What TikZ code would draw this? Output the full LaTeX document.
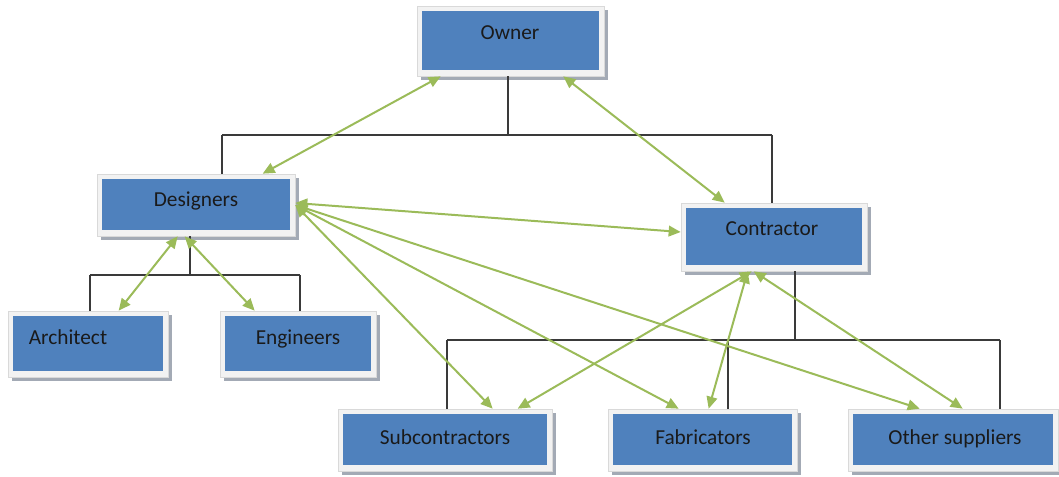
\documentclass[tikz,border=0pt]{standalone}
\usepackage{fontspec}
\setmainfont{Carlito}
\usetikzlibrary{arrows.meta,calc}
\definecolor{boxblue}{HTML}{4F81BD}
\definecolor{framefill}{HTML}{F2F2F2}
\definecolor{framegrey}{HTML}{D9D9D9}
\definecolor{shadowgrey}{HTML}{A3AAB5}
\definecolor{txt}{HTML}{1A1A1A}
\definecolor{treegrey}{HTML}{3A3A3A}
\definecolor{linkgreen}{HTML}{9BBB59}
\begin{document}
\begin{tikzpicture}[x=0.75pt,y=-0.75pt,
  frame/.style={rectangle, draw=framegrey, line width=0.5pt, fill=framefill, inner sep=0pt,
    preaction={fill=shadowgrey, transform canvas={xshift=3pt,yshift=-3pt}},
    path picture={\fill[boxblue] ([xshift=3.75pt,yshift=-3.5pt]path picture bounding box.north west) rectangle ([xshift=-3.75pt,yshift=4.5pt]path picture bounding box.south east);}},
  bsize/.style 2 args={minimum width=#1*0.75pt, minimum height=#2*0.75pt},
  lbl/.style={font=\fontsize{16}{19}\selectfont, text=txt, inner sep=0pt, anchor=base},
  tree/.style={draw=treegrey, line width=1pt},
  link/.style={draw=linkgreen, line width=1.5pt,
    {Triangle[length=9pt,width=8pt]}-{Triangle[length=9pt,width=8pt]}}
]
\useasboundingbox (0,0) rectangle (1059,477);

% boxes
\node[frame, bsize={187}{70}] (owner) at (510.5,41) {};
\node[frame, bsize={198}{62}] (designers) at (196,205) {};
\node[frame, bsize={186}{68}] (contractor) at (774,237) {};
\node[frame, bsize={160}{66}] (architect) at (88,344) {};
\node[frame, bsize={156}{66}] (engineers) at (298,344) {};
\node[frame, bsize={214}{62}] (subcon) at (445,440) {};
\node[frame, bsize={189}{62}] (fab) at (702.5,440) {};
\node[frame, bsize={210}{62}] (other) at (953,440) {};

% labels
\node[lbl] (ownerT) at (510,40) {Owner};
\node[lbl] (designersT) at (196,207) {Designers};
\node[lbl] (contractorT) at (772,235) {Contractor};
\node[lbl] (architectT) at (68,344) {Architect};
\node[lbl] (engineersT) at (298,344) {Engineers};
\node[lbl] (subconT) at (445,444) {Subcontractors};
\node[lbl] (fabT) at (703,444) {Fabricators};
\node[lbl] (otherT) at (955,444) {Other suppliers};

% tree connectors
\coordinate (j1) at (508,135);
\coordinate (j1L) at (222,135);
\coordinate (j1R) at (772,135);
\draw[tree] (j1 |- owner.south) -- (j1);
\draw[tree] (j1L) -- (j1R);
\draw[tree] (j1L) -- (j1L |- designers.north);
\draw[tree] (j1R) -- (j1R |- contractor.north);

\coordinate (j2) at (190,275);
\coordinate (j2L) at (90,275);
\coordinate (j2R) at (300,275);
\draw[tree] (j2 |- designers.south) -- (j2);
\draw[tree] (j2L) -- (j2R);
\draw[tree] (j2L) -- (j2L |- architect.north);
\draw[tree] (j2R) -- (j2R |- engineers.north);

\coordinate (j3) at (795,340);
\coordinate (j3L) at (447,340);
\coordinate (j3M) at (728,340);
\coordinate (j3R) at (1000,340);
\draw[tree] (j3 |- contractor.south) -- (j3);
\draw[tree] (j3L) -- (j3R);
\draw[tree] (j3L) -- (j3L |- subcon.north);
\draw[tree] (j3M) -- (j3M |- fab.north);
\draw[tree] (j3R) -- (j3R |- other.north);

% green links
\draw[link] ($(owner.south west)+(24,0)$) -- ($(designers.north west)+(166,0)$);
\draw[link] ($(owner.south east)+(-41,0)$) -- ($(contractor.north west)+(44,0)$);
\draw[link] ($(designers.east)+(0,-2)$) -- ($(contractor.west)+(0,-5)$);
\draw[link] ($(designers.south west)+(81,0)$) -- ($(architect.north west)+(111,0)$);
\draw[link] ($(designers.south west)+(88,0)$) -- ($(engineers.north west)+(35,0)$);
\draw[link] (designers.east) -- ($(subcon.north west)+(155,0)$);
\draw[link] (designers.east) -- ($(fab.north west)+(71,0)$);
\draw[link] (designers.east) -- ($(other.north west)+(72,0)$);
\draw[link] ($(contractor.south west)+(71,0)$) -- ($(subcon.north west)+(180,0)$);
\draw[link] ($(contractor.south west)+(67,0)$) -- ($(fab.north west)+(101,0)$);
\draw[link] ($(contractor.south west)+(73,0)$) -- ($(other.north west)+(115,0)$);
\end{tikzpicture}
\end{document}
